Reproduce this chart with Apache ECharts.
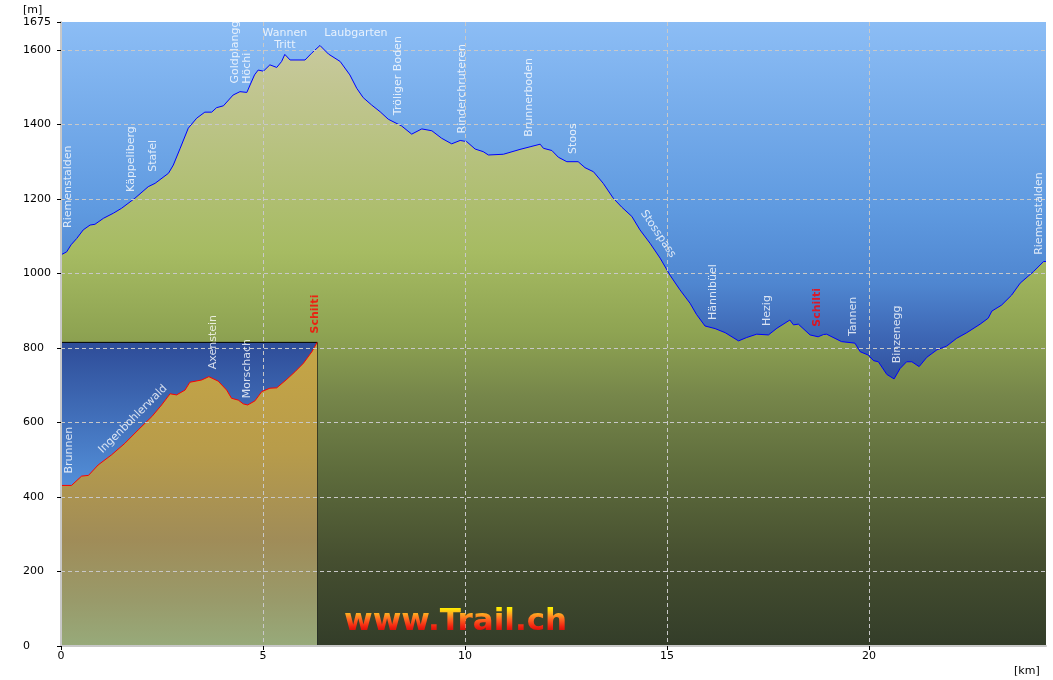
<!DOCTYPE html>
<html><head><meta charset="utf-8">
<script src="https://cdn.jsdelivr.net/npm/echarts@6/dist/echarts.min.js"></script>
<style>html,body{margin:0;padding:0;background:#fff}#c{width:1053px;height:680px}</style>
</head><body><div id="c"></div>
<script>
// ---- data ----
const mainKm = [0.00,0.14,0.25,0.39,0.55,0.72,0.84,1.05,1.30,1.50,1.83,2.16,2.33,2.66,2.78,2.95,3.15,3.36,3.56,3.73,3.85,4.02,4.26,4.43,4.60,4.68,4.79,4.88,5.01,5.17,5.34,5.46,5.54,5.67,6.04,6.20,6.41,6.62,6.91,7.15,7.32,7.48,7.69,7.90,8.10,8.43,8.68,8.93,9.18,9.42,9.67,9.88,10.04,10.25,10.45,10.58,10.95,11.36,11.61,11.86,11.94,12.15,12.31,12.52,12.80,12.97,13.18,13.42,13.67,13.88,14.13,14.33,14.58,14.83,15.07,15.32,15.57,15.73,15.94,16.19,16.44,16.77,16.97,17.22,17.51,17.72,18.04,18.13,18.25,18.54,18.74,18.87,18.95,19.32,19.65,19.78,19.98,20.11,20.23,20.44,20.62,20.77,20.93,21.06,21.24,21.43,21.68,21.92,22.17,22.42,22.75,22.95,23.04,23.28,23.53,23.74,24.07,24.32,24.38];
const mainM  = [1050,1058,1077,1094,1117,1130,1132,1148,1162,1175,1202,1233,1242,1269,1291,1336,1390,1417,1433,1433,1445,1450,1479,1488,1486,1506,1533,1546,1543,1560,1553,1569,1588,1573,1573,1591,1612,1589,1569,1533,1497,1472,1452,1434,1414,1396,1374,1388,1383,1363,1348,1357,1354,1334,1327,1318,1320,1333,1340,1347,1336,1330,1312,1300,1300,1284,1273,1242,1202,1178,1153,1117,1081,1041,996,956,920,890,859,852,841,819,828,837,835,853,875,862,864,835,830,836,837,817,813,790,781,766,763,729,717,745,763,763,750,775,795,805,826,841,864,880,899,915,942,974,1005,1032,1032];

const insetKm = [0.00,0.26,0.51,0.68,0.92,1.25,1.58,1.91,2.25,2.49,2.70,2.86,3.07,3.19,3.48,3.66,3.89,4.10,4.22,4.39,4.51,4.62,4.80,4.97,5.17,5.34,5.59,5.79,6.00,6.21,6.34];
const insetM  = [431,431,456,458,486,513,544,580,616,647,677,674,687,708,714,723,711,687,665,660,650,647,658,683,692,693,716,736,759,790,815];

const yTicks = [0,200,400,600,800,1000,1200,1400,1600,1675];
const xTicks = [0,5,10,15,20];
const yMax = 1675, xMax = 24.38, yStep = 200, xStep = 5;
const insetXMax = 6.34, insetYMax = 815;

// place names (vertical, white)
const vNames = ['Riemenstalden','Käppeliberg','Stafel','Goldplangg','Höchi','Tröliger Boden','Rinderchruteren','Brunnerboden','Stoos','Hännibüel','Hezig','Tannen','Binzenegg','Riemenstalden','Brunnen','Axenstein','Morschach'];
const vKm    = [0.17,1.73,2.29,4.31,4.60,8.35,9.92,11.58,12.68,16.15,17.47,19.60,20.69,24.20,0.20,3.77,4.60];
const vM     = [1122,1219,1273,1510,1509,1425,1376,1367,1321,875,859,832,759,1050,463,743,665];
// red names
const rNames = ['Schilti','Schilti'];
const rKm    = [18.72,6.29];
const rM     = [857,839];
// horizontal names
const hNames = ['Wannen\nTritt','Laubgarten'];
const hKm    = [5.54,7.30];
const hM     = [1629,1646];
// slanted names
const sNames = ['Ingenbohlerwald','Stosspass'];
const sKm    = [1.78,14.78];
const sM     = [609,1106];
const sRot   = [45,-56];

const watermark = 'www.Trail.ch';

// ---- layout ----
const L = 61, R = 7, T = 22, B = 34, W = 1053, H = 680;
const plotW = W - L - R, plotH = H - T - B;
const insetTop = T + plotH * (1 - insetYMax / yMax);
const insetW = plotW * insetXMax / xMax;

const LG = echarts.graphic.LinearGradient;
const font = 'DejaVu Sans';

const chart = echarts.init(document.getElementById('c'), null, {renderer:'canvas'});

const zip = (a,b) => a.map((v,i)=>[v,b[i]]);

chart.setOption({
  animation: false,
  backgroundColor: '#ffffff',
  grid: [
    {left: L, right: R, top: T, bottom: B, containLabel: false, show: true, borderWidth: 0, z: 0,
     backgroundColor: new LG(0,0,0,1,[
       {offset:0,color:'#8cbdf5'},{offset:0.3,color:'#5f9ae0'},{offset:0.42,color:'#4f86d0'},
       {offset:0.5,color:'#3e68b6'},{offset:0.56,color:'#3354a2'},{offset:0.6,color:'#2f4c98'},
       {offset:1,color:'#1a2860'}])},
    {left: L, width: insetW, top: insetTop, bottom: B, containLabel: false, show: true,
     borderColor: '#000', borderWidth: 1, z: 3,
     backgroundColor: new LG(0,0,0,1,[
       {offset:0,color:'#2e4c98'},{offset:0.5,color:'#5593dc'},{offset:1,color:'#6aa8ee'}])}
  ],
  xAxis: [
    {type:'value', gridIndex:0, min:0, max:xMax, interval:xStep, z:5,
      axisLine:{show:true, onZero:false, lineStyle:{color:'#c8c8c8', width:2}},
      axisTick:{show:true, length:4, lineStyle:{color:'#000'}},
      axisLabel:{show:true, showMaxLabel:false, color:'#000', fontFamily:font, fontSize:11, margin:5,
        formatter: v => xTicks.includes(v) ? String(v) : ''},
      splitLine:{show:true, showMinLine:false, showMaxLine:false, lineStyle:{color:'#c8c8c8', type:[4,3], width:1}}},
    {type:'value', gridIndex:1, min:0, max:insetXMax, show:false}
  ],
  yAxis: [
    {type:'value', gridIndex:0, min:0, max:yMax, interval:yStep, z:5,
      axisLine:{show:true, lineStyle:{color:'#c8c8c8', width:2}},
      axisTick:{show:true, length:4, lineStyle:{color:'#000'}},
      axisLabel:{show:true, color:'#000', fontFamily:font, fontSize:11, align:'left', margin:38,
        formatter: v => yTicks.includes(v) ? String(v) : ''},
      splitLine:{show:true, showMinLine:false, showMaxLine:false, lineStyle:{color:'#c8c8c8', type:[4,3], width:1}}},
    {type:'value', gridIndex:1, min:0, max:insetYMax, show:false}
  ],
  series: [
    {type:'line', name:'profile', xAxisIndex:0, yAxisIndex:0, data: zip(mainKm, mainM), symbol:'none', z:2,
     lineStyle:{color:'#0000ff', width:1},
     areaStyle:{opacity:1, color: new LG(0, T, 0, T + plotH, [
       {offset:0,color:'#cccca4'},{offset:0.1,color:'#c2c692'},{offset:0.37,color:'#a6bb62'},
       {offset:0.5,color:'#8ea352'},{offset:0.6,color:'#76864a'},{offset:0.72,color:'#5e6c3c'},
       {offset:0.86,color:'#464f30'},{offset:1,color:'#333d29'}], true)}},
    {type:'line', name:'inset', xAxisIndex:1, yAxisIndex:1, data: zip(insetKm, insetM), symbol:'none', z:4,
     lineStyle:{color:'#ff0000', width:1},
     areaStyle:{opacity:1, color: new LG(0, insetTop, 0, T + plotH, [
       {offset:0,color:'#c6a646'},{offset:0.35,color:'#b89c4a'},{offset:0.65,color:'#a08c58'},
       {offset:0.85,color:'#999a6a'},{offset:1,color:'#97aa7a'}], true)}},
    {type:'scatter', xAxisIndex:0, yAxisIndex:0, z:6, symbolSize:1, itemStyle:{color:'rgba(0,0,0,0)'},
     data: vNames.map((n,i)=>({name:n, value:[vKm[i], vM[i]]})),
     label:{show:true, position:'inside', formatter:'{b}', rotate:90, align:'left', verticalAlign:'middle',
       color:'#fff', fontFamily:font, fontSize:11}},
    {type:'scatter', xAxisIndex:0, yAxisIndex:0, z:6, symbolSize:1, itemStyle:{color:'rgba(0,0,0,0)'},
     data: rNames.map((n,i)=>({name:n, value:[rKm[i], rM[i]]})),
     label:{show:true, position:'inside', formatter:'{b}', rotate:90, align:'left', verticalAlign:'middle',
       color:'#ff0000', fontFamily:font, fontWeight:'bold', fontSize:11}},
    {type:'scatter', xAxisIndex:0, yAxisIndex:0, z:6, symbolSize:1, itemStyle:{color:'rgba(0,0,0,0)'},
     data: hNames.map((n,i)=>({name:n, value:[hKm[i], hM[i]]})),
     label:{show:true, position:'inside', formatter:'{b}', align:'center', verticalAlign:'middle', lineHeight:12,
       color:'#fff', fontFamily:font, fontSize:11}},
    {type:'scatter', xAxisIndex:0, yAxisIndex:0, z:6, symbolSize:1, itemStyle:{color:'rgba(0,0,0,0)'},
     data: sNames.map((n,i)=>({name:n, value:[sKm[i], sM[i]], label:{rotate:sRot[i]}})),
     label:{show:true, position:'inside', formatter:'{b}', align:'center', verticalAlign:'middle',
       color:'#fff', fontFamily:font, fontSize:11}}
  ],
  graphic: [
    {type:'text', left:23, top:5, z:10, style:{text:'[m]', fill:'#000', font:'11px "DejaVu Sans"'}},
    {type:'text', left:1014, top:666, z:10, style:{text:'[km]', fill:'#000', font:'11px "DejaVu Sans"'}}
  ]
});

// watermark with a vertical yellow-to-red gradient fill
(function () {
  const zr = chart.getZr();
  let ctx = null;
  try { ctx = zr.painter.getLayer(0).ctx; } catch (e) { ctx = null; }
  if (!ctx) ctx = document.createElement('canvas').getContext('2d');
  const g = ctx.createLinearGradient(0, 608, 0, 634);
  g.addColorStop(0, '#fff000');
  g.addColorStop(0.2, '#ffb020');
  g.addColorStop(0.42, '#ff6a20');
  g.addColorStop(0.72, '#f02010');
  g.addColorStop(1, '#c00000');
  const txt = new echarts.graphic.Text({
    z: 100, silent: true,
    style: {text: watermark, x: 344, y: 606, verticalAlign: 'top', align: 'left',
            font: 'bold 31px "DejaVu Sans"', fill: g}
  });
  zr.add(txt);
  zr.refreshImmediately();
  const kids = (txt.childrenRef && txt.childrenRef()) || [];
  kids.forEach(k => {
    k.style.fill = g;
    k.beforeBrush = function () { ctx.fillStyle = g; };
    k.markRedraw && k.markRedraw();
  });
  zr.refreshImmediately();
})();
</script></body></html>
